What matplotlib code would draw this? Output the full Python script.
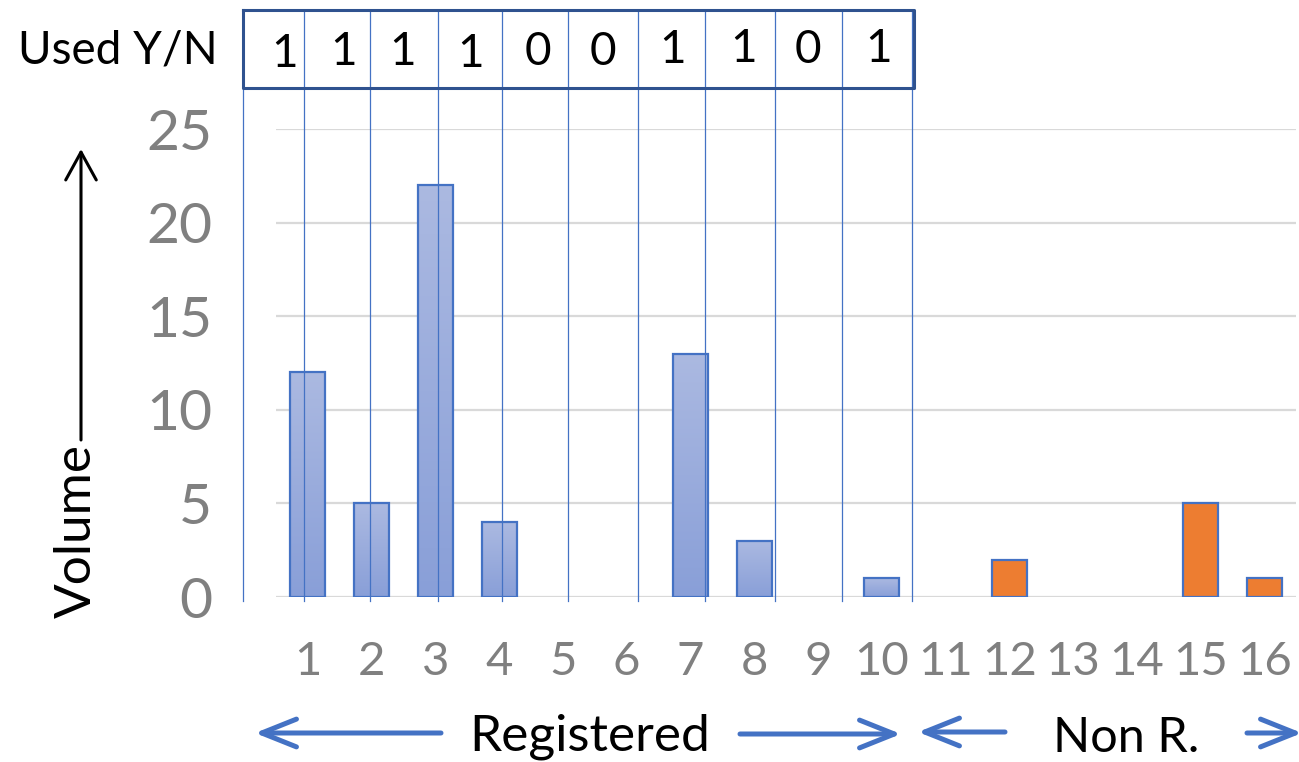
import numpy as np
import matplotlib.pyplot as plt
from matplotlib.patches import FancyArrowPatch, ArrowStyle
from matplotlib.colors import LinearSegmentedColormap

plt.rcParams['font.family'] = ['Lato', 'DejaVu Sans']

# data
categories = [str(i) for i in range(1, 17)]
volume = [12, 5, 22, 4, 0, 0, 13, 3, 0, 1, 0, 2, 0, 0, 5, 1]
registered = [True] * 10 + [False] * 6
used_flags = [1, 1, 1, 1, 0, 0, 1, 1, 0, 1]
yticks = [0, 5, 10, 15, 20, 25]

W, H = 1299, 762
fig = plt.figure(figsize=(W / 100, H / 100), dpi=100)

# main bar axes, placed in pixels
ax_l, ax_r, ax_top, ax_bot = 276, 1296, 129, 597
ax = fig.add_axes([ax_l / W, 1 - ax_bot / H, (ax_r - ax_l) / W, (ax_bot - ax_top) / H])
for s in ax.spines.values():
    s.set_visible(False)
ax.set_yticks(yticks)
ax.yaxis.grid(True, color='#D9D9D9', lw=1.6)
ax.set_axisbelow(True)
ax.tick_params(axis='both', length=0, colors='#808080')
ax.tick_params(axis='y', labelsize=41, pad=46)
ax.set_xticks(range(1, 17))
ax.set_xticklabels(categories)
ax.tick_params(axis='x', labelsize=34, pad=32)

blue_grad = LinearSegmentedColormap.from_list('bg', ['#899FD8', '#ABB9E1'])
grad = np.linspace(0, 1, 100).reshape(-1, 1)
xs = np.arange(1, 17)
bw = 0.55
for x, v, reg in zip(xs, volume, registered):
    if v == 0:
        continue
    if reg:
        bar = ax.bar(x, v, width=bw, color='none', edgecolor='#4472C4', lw=1.6, zorder=3)[0]
        im = ax.imshow(grad, cmap=blue_grad, aspect='auto', origin='lower',
                       extent=[x - bw / 2, x + bw / 2, 0, v], zorder=2)
        im.set_clip_path(bar)
    else:
        ax.bar(x, v, width=bw, color='#ED7D31', edgecolor='#4472C4', lw=1.6, zorder=3)
ax.set_xlim(0.5, 16.5)
ax.set_ylim(0, 25)

# overlay in pixel coords for the hand-drawn table, labels and arrows
ov = fig.add_axes([0, 0, 1, 1], facecolor='none')
ov.set_xlim(0, W)
ov.set_ylim(H, 0)
ov.axis('off')

# table of used flags
tbl_l, tbl_r, tbl_t, tbl_b = 243, 914, 10, 88
divs = [304, 370, 438, 502, 568, 638, 705, 775, 842]
for x in [tbl_l] + divs + [912]:
    ov.plot([x, x], [tbl_t, 601], color='#4472C4', lw=0.9)
ov.plot([tbl_l, tbl_r, tbl_r, tbl_l, tbl_l], [tbl_t, tbl_t, tbl_b, tbl_b, tbl_t],
        color='#2F528F', lw=2.2)
flag_x = [285, 344, 403, 471, 538, 603, 673, 744, 808, 879]
flag_base = [67, 65, 65, 67, 65, 65, 63, 62, 63, 62]
for x, yb, f in zip(flag_x, flag_base, used_flags):
    ov.text(x, yb, str(f), fontsize=33, ha='center', va='baseline', color='black')
ov.text(118, 63, 'Used Y/N', fontsize=33, ha='center', va='baseline', color='black')

# y label with arrow
ov.text(77, 531, 'Volume', fontsize=37, rotation=90, ha='center', va='center', color='black')
ov.add_patch(FancyArrowPatch((81, 440), (81, 149), mutation_scale=1, shrinkA=0, shrinkB=0,
                             arrowstyle=ArrowStyle('->', head_length=20, head_width=11),
                             color='black', lw=2.2))

# bottom group labels with arrows
ov.text(590, 750, 'Registered', fontsize=37, ha='center', va='baseline', color='black')
ov.text(1126, 752, 'Non R.', fontsize=35, ha='center', va='baseline', color='black')
arrows = [((441, 733), (255, 733)), ((740, 734), (901, 734)),
          ((1005, 732), (918, 732)), ((1247, 733), (1302, 733))]
for a, b in arrows:
    ov.add_patch(FancyArrowPatch(a, b, mutation_scale=1, shrinkA=0, shrinkB=0,
                                 arrowstyle=ArrowStyle('->', head_length=25, head_width=10),
                                 color='#4472C4', lw=3.6, capstyle='round', joinstyle='round'))

fig.savefig('out.png', dpi=100)
